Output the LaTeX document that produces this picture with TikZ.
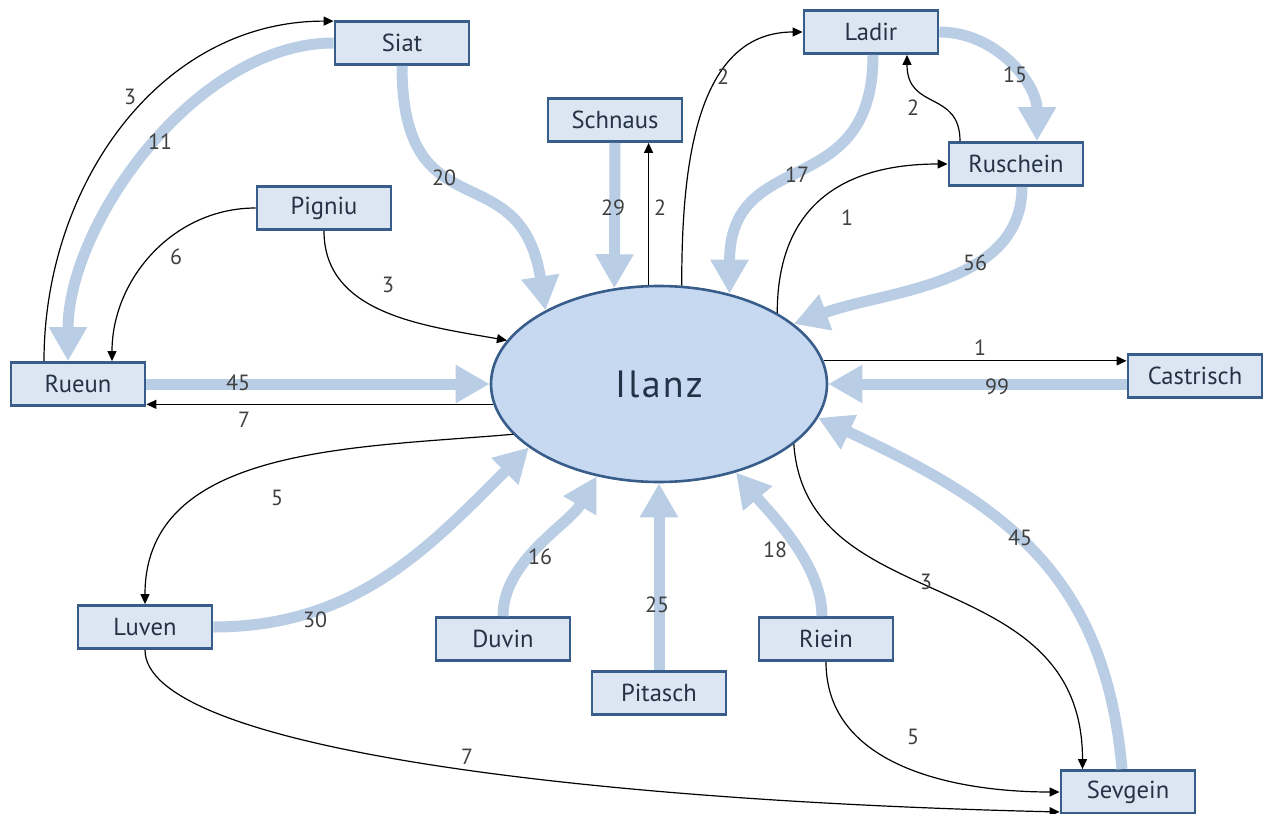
\documentclass[tikz,border=0pt]{standalone}
\usepackage{fontspec}
\setmainfont{PT Sans}
\usepackage{tikz}
\usetikzlibrary{positioning}
\usetikzlibrary{shapes.geometric, arrows.meta}

\definecolor{boxfill}{RGB}{220,230,242}
\definecolor{boxline}{RGB}{56,93,138}
\definecolor{townfill}{RGB}{198,217,241}
\definecolor{flowblue}{RGB}{185,205,229}
\definecolor{boxtext}{RGB}{36,50,70}
\definecolor{numtext}{RGB}{64,64,64}

\tikzstyle{village} = [rectangle, draw=boxline, fill=boxfill, line width=1.4pt, minimum width=67pt, minimum height=21.5pt, inner sep=0pt, text=boxtext, font=\fontsize{12.3}{14}\selectfont]
\tikzstyle{town} = [ellipse, draw=boxline, fill=townfill, line width=1.3pt, minimum width=168pt, minimum height=98pt, inner sep=0pt, text=boxtext, font=\fontsize{19}{23}\selectfont\addfontfeature{LetterSpace=6}]
\tikzstyle{flow} = [draw=flowblue, line width=5.5pt, -{Triangle[length=17pt,width=18pt]}]
\tikzstyle{move} = [black, line width=0.6pt, -{Triangle[length=5pt,width=4.5pt]}]
\tikzstyle{count} = [text=numtext, inner sep=0pt, font=\fontsize{11}{13}\selectfont]

\begin{document}
\begin{tikzpicture}[x=0.5pt, y=-0.5pt]
  \useasboundingbox (0,0) rectangle (1265,814);

  % Ilanz and the villages round it
  \node[town] (ilanz) at (659,384) {Ilanz};
  \node[village] (siat) at (402,43) {Siat};
  \node[village] (pigniu) at (324,208) {Pigniu};
  \node[village] (schnaus) at (615,120) {Schnaus};
  \node[village] (ladir) at (871,32) {Ladir};
  \node[village] (ruschein) at (1016,164) {Ruschein};
  \node[village] (rueun) at (78,384) {Rueun};
  \node[village] (castrisch) at (1195,376) {Castrisch};
  \node[village] (luven) at (145,627) {Luven};
  \node[village] (duvin) at (503,639) {Duvin};
  \node[village] (pitasch) at (659,693) {Pitasch};
  \node[village] (riein) at (826,639) {Riein};
  \node[village] (sevgein) at (1128,792) {Sevgein};

  % big flows
  \draw[flow] (siat.west) to[out=180,in=90,looseness=0.85] ([xshift=-5pt]rueun.north);
  \draw[flow] (siat.south) .. controls +(0,170) and +(-25,-160) .. (ilanz.147);
  \draw[flow] (schnaus.south) -- (ilanz.115);
  \draw[flow] ([xshift=1pt]ladir.south) .. controls +(0,150) and +(0,-150) .. (ilanz.52);
  \draw[flow] (ladir.east) to[out=0,in=90] ([xshift=10.5pt]ruschein.north);
  \draw[flow] ([xshift=3pt]ruschein.south) to[out=-90,in=20,looseness=0.95] (ilanz.24);
  \draw[flow] (castrisch.west |- ilanz.east) -- (ilanz.east);
  \draw[flow] ([xshift=-3pt]sevgein.north) to[out=95,in=-25,looseness=1.1] (ilanz.-12);
  \draw[flow] ([xshift=-2pt]riein.north) to[out=90,in=-50,looseness=0.8] (ilanz.-49);
  \draw[flow] (pitasch.north) -- (ilanz.south);
  \draw[flow] (duvin.north) to[out=90,in=-120,looseness=0.85] (ilanz.-124);
  \draw[flow] (luven.east) to[out=0,in=-135] (ilanz.-154);
  \draw[flow] (rueun.east) -- (ilanz.west);

  % small moves
  \draw[move] ([xshift=-17pt]rueun.north) to[out=90,in=180] ([yshift=-0.5pt]siat.north west);
  \draw[move] (pigniu.west) to[out=180,in=90] ([xshift=17pt]rueun.north);
  \draw[move] (pigniu.south) to[out=-90,in=170] (ilanz.164);
  \draw[move] (ilanz.96) -- (ilanz.96 |- schnaus.south);
  \draw[move] (ilanz.77) to[out=90,in=180] (ladir.west);
  \draw[move] ([xshift=-28pt]ruschein.north) .. controls +(0,-51) and +(0,56) .. ([xshift=18pt]ladir.south);
  \draw[move] (ilanz.31) to[out=90,in=180,looseness=1.2] (ruschein.west);
  \draw[move] (ilanz.8) -- (ilanz.8 -| castrisch.west);
  \draw[move] (ilanz.187) -- (ilanz.187 -| rueun.east);
  \draw[move] (ilanz.199) to[out=185,in=90] (luven.north);
  \draw[move] (ilanz.-24) .. controls +(12,176) and +(0,-209) .. ([xshift=-22.75pt]sevgein.north);
  \draw[move] (riein.south) to[out=-90,in=180] (sevgein.west);
  \draw[move] (luven.south) .. controls +(0,95) and +(-500,-12) .. ([yshift=-10pt]sevgein.west);

  % numbers
  \node[count] (nSiatRueun) at (160,142) {11};
  \node[count] (nRueunSiat) at (130,97) {3};
  \node[count] (nSiatIlanz) at (444,178) {20};
  \node[count] (nPigniuRueun) at (176,257) {6};
  \node[count] (nPigniuIlanz) at (388,285) {3};
  \node[count] (nSchnausIlanz) at (613,208) {29};
  \node[count] (nIlanzSchnaus) at (660,208) {2};
  \node[count] (nIlanzLadir) at (723,77) {2};
  \node[count] (nLadirIlanz) at (797,175) {17};
  \node[count] (nLadirRuschein) at (1015,75) {15};
  \node[count] (nRuscheinLadir) at (913,108) {2};
  \node[count] (nIlanzRuschein) at (847,218) {1};
  \node[count] (nRuscheinIlanz) at (975,263) {56};
  \node[count] (nRueunIlanz) at (238,383) {45};
  \node[count] (nIlanzRueun) at (244,420) {7};
  \node[count] (nIlanzCastrisch) at (980,348) {1};
  \node[count] (nCastrischIlanz) at (997,387) {99};
  \node[count] (nIlanzLuven) at (277,498) {5};
  \node[count] (nLuvenIlanz) at (315,620) {30};
  \node[count] (nDuvinIlanz) at (540,557) {16};
  \node[count] (nPitaschIlanz) at (657,605) {25};
  \node[count] (nRieinIlanz) at (775,550) {18};
  \node[count] (nSevgeinIlanz) at (1020,538) {45};
  \node[count] (nIlanzSevgein) at (926,582) {3};
  \node[count] (nRieinSevgein) at (913,737) {5};
  \node[count] (nLuvenSevgein) at (467,757) {7};
\end{tikzpicture}
\end{document}
